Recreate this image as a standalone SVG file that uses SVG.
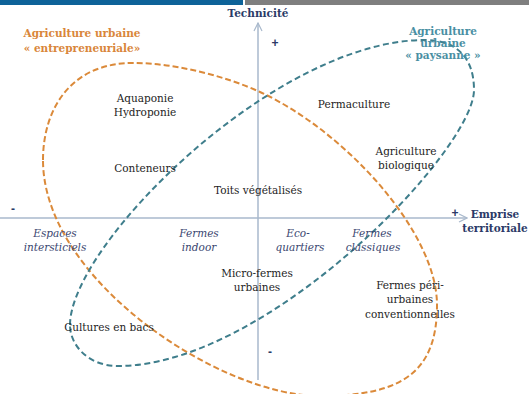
<svg xmlns="http://www.w3.org/2000/svg" width="529" height="394" viewBox="0 0 529 394">
<defs>
<style>
.t{font-family:"DejaVu Serif","Liberation Serif",serif;font-size:10.5px;fill:#242424;text-anchor:middle}
.it{font-family:"DejaVu Serif","Liberation Serif",serif;font-size:10.5px;font-style:italic;fill:#3a4670;text-anchor:middle}
.ax{font-family:"DejaVu Serif","Liberation Serif",serif;font-size:10.5px;font-weight:bold;fill:#2b3a67;text-anchor:middle}
.sg{font-family:"Liberation Sans","DejaVu Sans",sans-serif;font-size:12px;font-weight:bold;fill:#2b3a67;text-anchor:middle}
.or{font-family:"DejaVu Serif","Liberation Serif",serif;font-size:10.5px;font-weight:bold;fill:#d9863a;text-anchor:middle}
.bl{font-family:"DejaVu Serif","Liberation Serif",serif;font-size:10.5px;font-weight:bold;fill:#4a8fa3;text-anchor:middle}
.axis{stroke:#a9b9cc;stroke-width:1.5;fill:none}
.orange{stroke:#db8a3a;stroke-width:2;fill:none;stroke-dasharray:6 3}
.blue{stroke:#3f7e8c;stroke-width:2;fill:none;stroke-dasharray:6 3.5}
</style>
<marker id="arr" viewBox="0 0 10 10" refX="9" refY="5" markerWidth="10" markerHeight="10" markerUnits="userSpaceOnUse" orient="auto">
<path d="M1,1 L9,5 L1,9" fill="none" stroke="#a9b9cc" stroke-width="1.2"/>
</marker>
</defs>
<rect width="529" height="394" fill="#ffffff"/>
<rect x="0" y="0" width="243" height="5" fill="#0e6399"/>
<rect x="245" y="0" width="284" height="5" fill="#7f7f7f"/>
<g id="connectors">
<line class="axis" x1="258" y1="380" x2="258" y2="23" marker-end="url(#arr)"/>
<line class="axis" x1="0" y1="218" x2="467" y2="218" marker-end="url(#arr)"/>
</g>
<g id="regions">
<path id="zone-entrepreneuriale" class="orange" d="M43,160 C43,110 70,63 133,63 C175,63 225,76 260,92 C345,131 437,232 437,305 C437,370 405,396 320,396 C220,396 43,280 43,160 Z"/>
<path id="zone-paysanne" class="blue" d="M70,325 C70,245 275,40 425,40 C457,40 474,58 474,90 C474,150 268,366 118,366 C88,366 70,345 70,325 Z"/>
</g>
<g id="axis-technicite"><text class="ax" x="258" y="17">Technicité</text></g>
<g id="axis-emprise"><text class="ax" x="495" y="218">Emprise</text><text class="ax" x="495" y="232">territoriale</text></g>
<g id="signs">
<text class="sg" x="275" y="47">+</text>
<text class="sg" x="455" y="217">+</text>
<text class="sg" x="13" y="213">-</text>
<text class="sg" x="270" y="356">-</text>
</g>
<g id="label-entrepreneuriale"><text class="or" x="82" y="37">Agriculture urbaine</text><text class="or" x="82" y="52">« entrepreneuriale»</text></g>
<g id="label-paysanne"><text class="bl" x="443" y="35">Agriculture</text><text class="bl" x="443" y="47">urbaine</text><text class="bl" x="443" y="59">« paysanne »</text></g>
<g id="aquaponie"><text class="t" x="145" y="102">Aquaponie</text><text class="t" x="145" y="116">Hydroponie</text></g>
<g id="conteneurs"><text class="t" x="145" y="172">Conteneurs</text></g>
<g id="toits"><text class="t" x="258" y="194">Toits végétalisés</text></g>
<g id="permaculture"><text class="t" x="354" y="108">Permaculture</text></g>
<g id="agri-bio"><text class="t" x="406" y="155">Agriculture</text><text class="t" x="406" y="169">biologique</text></g>
<g id="espaces"><text class="it" x="55" y="237">Espaces</text><text class="it" x="55" y="251">intersticiels</text></g>
<g id="fermes-indoor"><text class="it" x="199" y="237">Fermes</text><text class="it" x="199" y="251">indoor</text></g>
<g id="eco-quartiers"><text class="it" x="298" y="237">Eco-</text><text class="it" x="300" y="251">quartiers</text></g>
<g id="fermes-classiques"><text class="it" x="372" y="237">Fermes</text><text class="it" x="373" y="251">classiques</text></g>
<g id="micro-fermes"><text class="t" x="257" y="277">Micro-fermes</text><text class="t" x="257" y="291">urbaines</text></g>
<g id="fermes-peri"><text class="t" x="410" y="289">Fermes péri-</text><text class="t" x="410" y="303">urbaines</text><text class="t" x="410" y="318">conventionnelles</text></g>
<g id="cultures-bacs"><text class="t" x="109" y="331">Cultures en bacs</text></g>
</svg>
